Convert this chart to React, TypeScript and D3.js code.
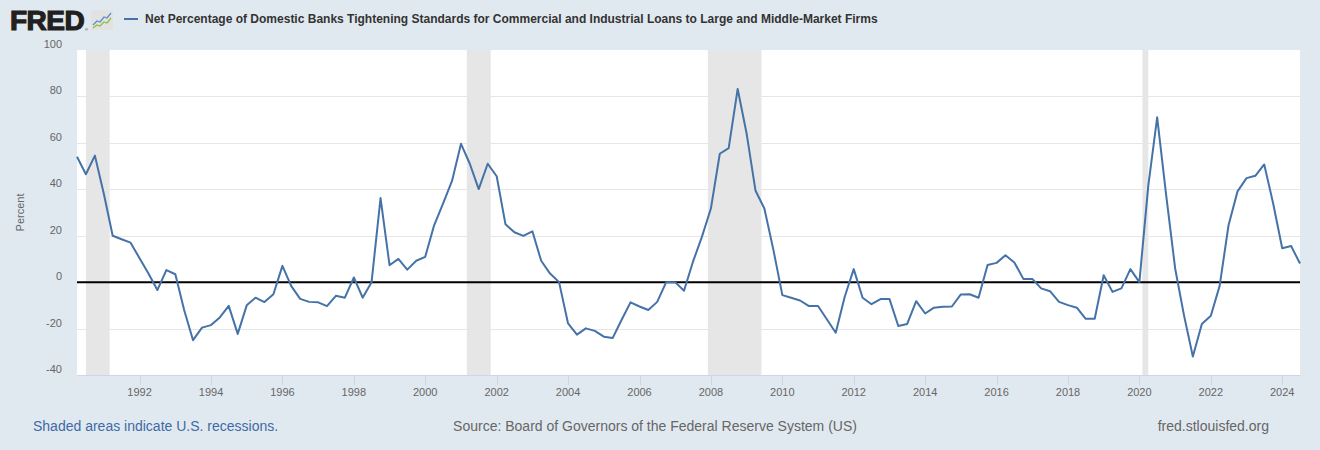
import React, { useEffect, useRef } from "react";
import * as d3 from "d3";

// quarterly observations, 1990 Q2 .. 2024 Q3
const startQuarter = "1990-04-01";
const values: number[] = [
  54, 46.5, 54.5,
  38, 20, 18.5, 17,
  10.3, 3.7, -3.4, 5.2,
  3.4, -12, -25, -19.6,
  -18.5, -15.2, -10.2, -22.3,
  -10, -6.7, -8.6, -5.2,
  7, -1.7, -7.2, -8.5,
  -8.7, -10.3, -5.9, -6.7,
  2, -6.7, 0, 36.2,
  7.3, 10, 5.4, 9.2,
  10.9, 24.5, 33.8, 43.6,
  59.6, 51, 40.1, 51,
  45.6, 24.9, 21.5, 19.9,
  21.9, 9.2, 3.7, 0,
  -17.8, -22.6, -19.9, -21,
  -23.5, -24.1, -16.3, -8.7,
  -10.5, -12, -8.5, 0,
  0, -3.7, 8.7, 19.5,
  31.7, 55.3, 57.7, 83.2,
  63.9, 39.5, 31.7, 14,
  -5.6, -6.7, -7.9, -10.3,
  -10.3, -16, -21.8, -6.3,
  5.6, -6.7, -9.5, -7.3,
  -7.3, -18.9, -18, -8.2,
  -13.5, -11, -10.6, -10.5,
  -5.3, -5.2, -6.7, 7.4,
  8.3, 11.6, 8.5, 1.4,
  1.4, -2.7, -3.9, -8.5,
  -9.9, -11, -15.8, -15.8,
  3, -4.2, -2.7, 5.6,
  0, 41.5, 71, 37.5,
  5.9, -14.2, -32, -18,
  -14.5, -1.6, 24.5, 39.1,
  44.8, 45.8, 50.7, 33.8,
  14.6, 15.6, 8,
];

const recessions: [string, string][] = [
  ["1990-07-01", "1991-03-01"],
  ["2001-03-01", "2001-11-01"],
  ["2007-12-01", "2009-06-01"],
  ["2020-02-01", "2020-04-01"],
];

const yTicks = [-40, -20, 0, 20, 40, 60, 80, 100];
const xTickYears = d3.range(1992, 2025, 2);

const title =
  "Net Percentage of Domestic Banks Tightening Standards for Commercial and Industrial Loans to Large and Middle-Market Firms";
const yLabel = "Percent";
const recessionNote = "Shaded areas indicate U.S. recessions.";
const sourceNote = "Source: Board of Governors of the Federal Reserve System (US)";
const siteNote = "fred.stlouisfed.org";

const FONT = "'Liberation Sans', Arial, Helvetica, sans-serif";

export default function App() {
  const ref = useRef<SVGSVGElement>(null);

  useEffect(() => {
    const width = 1320;
    const height = 450;
    const left = 77;
    const right = 1300;
    const top = 50;
    const bottom = 375;

    const parse = d3.utcParse("%Y-%m-%d");
    const start = parse(startQuarter) as Date;
    const data = values.map((v, i) => ({ date: d3.utcMonth.offset(start, i * 3), value: v }));

    const x = d3
      .scaleUtc()
      .domain([start, data[data.length - 1].date])
      .range([left, right]);
    const y = d3.scaleLinear().domain([-40, 100]).range([bottom, top]);

    const svg = d3.select(ref.current);
    svg.selectAll("*").remove();
    svg.attr("width", width).attr("height", height).style("font-family", FONT);

    svg.append("rect").attr("width", width).attr("height", height).attr("fill", "#e1e9f0");
    svg
      .append("rect")
      .attr("x", left)
      .attr("y", top)
      .attr("width", right - left)
      .attr("height", bottom - top)
      .attr("fill", "#ffffff");

    // recession shading
    svg
      .append("g")
      .selectAll("rect")
      .data(recessions)
      .join("rect")
      .attr("x", (d) => x(parse(d[0]) as Date))
      .attr("width", (d) => x(parse(d[1]) as Date) - x(parse(d[0]) as Date))
      .attr("y", top)
      .attr("height", bottom - top)
      .attr("fill", "#e6e6e6");

    // grid
    svg
      .append("g")
      .selectAll("line")
      .data(yTicks.filter((t) => t !== -40 && t !== 100))
      .join("line")
      .attr("x1", left)
      .attr("x2", right)
      .attr("y1", (d) => Math.round(y(d)) + 0.5)
      .attr("y2", (d) => Math.round(y(d)) + 0.5)
      .attr("stroke", "#e6e6e6")
      .attr("stroke-width", 1);

    // y labels
    svg
      .append("g")
      .selectAll("text")
      .data(yTicks)
      .join("text")
      .attr("x", 62)
      .attr("y", (d) => y(d) - 2)
      .attr("text-anchor", "end")
      .attr("font-size", 11)
      .attr("fill", "#666666")
      .text((d) => d);

    svg
      .append("text")
      .attr("transform", `translate(24, ${(top + bottom) / 2}) rotate(-90)`)
      .attr("text-anchor", "middle")
      .attr("font-size", 11)
      .attr("fill", "#666666")
      .text(yLabel);

    // x axis
    svg
      .append("line")
      .attr("x1", left)
      .attr("x2", right)
      .attr("y1", bottom + 0.5)
      .attr("y2", bottom + 0.5)
      .attr("stroke", "#ccd6eb");

    const xTicks = xTickYears.map((yr) => new Date(Date.UTC(yr, 0, 1)));
    const xt = svg.append("g").selectAll("g").data(xTicks).join("g");
    xt.append("line")
      .attr("x1", (d) => Math.round(x(d)) + 0.5)
      .attr("x2", (d) => Math.round(x(d)) + 0.5)
      .attr("y1", bottom)
      .attr("y2", bottom + 10)
      .attr("stroke", "#ccd6eb");
    xt.append("text")
      .attr("x", (d) => x(d))
      .attr("y", 396)
      .attr("text-anchor", "middle")
      .attr("font-size", 11)
      .attr("fill", "#666666")
      .text((d) => d3.utcFormat("%Y")(d));

    // zero line
    svg
      .append("line")
      .attr("x1", left)
      .attr("x2", right)
      .attr("y1", y(0))
      .attr("y2", y(0))
      .attr("stroke", "#000000")
      .attr("stroke-width", 2);

    // series
    const line = d3
      .line<{ date: Date; value: number }>()
      .x((d) => x(d.date))
      .y((d) => y(d.value));
    svg
      .append("path")
      .datum(data)
      .attr("d", line)
      .attr("fill", "none")
      .attr("stroke", "#4572a7")
      .attr("stroke-width", 2)
      .attr("stroke-linejoin", "round");

    // header: logo + legend
    svg
      .append("text")
      .attr("x", 10)
      .attr("y", 30)
      .attr("font-size", 28)
      .attr("font-weight", 900)
      .attr("letter-spacing", -0.5)
      .attr("fill", "#231f20")
      .attr("stroke", "#231f20")
      .attr("stroke-width", 1.2)
      .text("FRED");
    svg
      .append("text")
      .attr("x", 85)
      .attr("y", 31)
      .attr("font-size", 4)
      .attr("fill", "#231f20")
      .text("®");
    const icon = svg.append("g").attr("transform", "translate(91, 10)");
    icon.append("rect").attr("width", 22).attr("height", 20).attr("rx", 1).attr("fill", "#e2e2e2");
    icon
      .append("polyline")
      .attr("points", "2,15 6,11 9,12 13,7 16,8 20,3")
      .attr("fill", "none")
      .attr("stroke", "#5d8fc9")
      .attr("stroke-width", 1.3);
    icon
      .append("polyline")
      .attr("points", "2,18 6,15 9,16 13,12 16,13 20,8")
      .attr("fill", "none")
      .attr("stroke", "#8cbf45")
      .attr("stroke-width", 1.3);

    svg
      .append("line")
      .attr("x1", 124)
      .attr("x2", 138)
      .attr("y1", 19)
      .attr("y2", 19)
      .attr("stroke", "#4572a7")
      .attr("stroke-width", 2);
    svg
      .append("text")
      .attr("x", 145)
      .attr("y", 23)
      .attr("font-size", 12)
      .attr("font-weight", "bold")
      .attr("fill", "#333333")
      .text(title);

    // footer
    svg
      .append("text")
      .attr("x", 33)
      .attr("y", 431)
      .attr("font-size", 14)
      .attr("fill", "#3e6aa5")
      .text(recessionNote);
    svg
      .append("text")
      .attr("x", 655)
      .attr("y", 431)
      .attr("text-anchor", "middle")
      .attr("font-size", 14)
      .attr("fill", "#666666")
      .text(sourceNote);
    svg
      .append("text")
      .attr("x", 1269)
      .attr("y", 431)
      .attr("text-anchor", "end")
      .attr("font-size", 14)
      .attr("fill", "#666666")
      .text(siteNote);
  }, []);

  return <svg ref={ref} style={{ position: "absolute", left: 0, top: 0, display: "block" }} />;
}
